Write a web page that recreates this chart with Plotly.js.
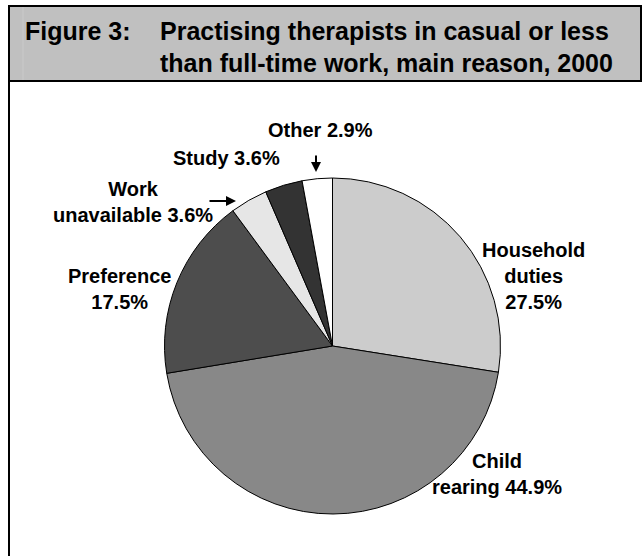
<!DOCTYPE html>
<html>
<head>
<meta charset="utf-8">
<script src="https://cdn.plot.ly/plotly-3.0.1.min.js"></script>
<style>html,body{margin:0;padding:0;background:#fff;}#chart{width:642px;height:556px;}</style>
</head>
<body>
<div id="chart"></div>
<script>
var categories = ["Household duties", "Child rearing", "Preference", "Work unavailable", "Study", "Other"];
var percents = [27.5, 44.9, 17.5, 3.6, 3.6, 2.9];
var labelTexts = ["Household<br>duties<br>27.5%", "Child<br>rearing 44.9%", "Preference<br>17.5%", "Work<br>unavailable 3.6%", "Study 3.6%", "Other 2.9%"];
var figureLabel = "Figure 3:";
var titleLines = ["Practising therapists in casual or less", "than full-time work, main reason, 2000"];

var W = 642, H = 556;
function px(x) { return x / W; }
function py(y) { return 1 - y / H; }

var sliceColors = ["#cccccc", "#888888", "#4d4d4d", "#e6e6e6", "#333333", "#ffffff"];
var labelPos = [[533, 276], [497, 474], [119, 289], [133, 202], [226, 158], [320, 130]];

var font = {family: "Liberation Sans, Arial, sans-serif", size: 20, color: "#000", weight: "bold"};

var annotations = [];
for (var i = 0; i < categories.length; i++) {
  annotations.push({
    xref: "paper", yref: "paper",
    x: px(labelPos[i][0]), y: py(labelPos[i][1]),
    xanchor: "center", yanchor: "middle",
    text: labelTexts[i], showarrow: false, align: "center", font: font
  });
}
// arrows
annotations.push({xref: "paper", yref: "paper", x: px(236), y: py(201), ax: -28, ay: 0,
  text: "", showarrow: true, arrowhead: 2, arrowsize: 1, arrowwidth: 2, arrowcolor: "#000"});
annotations.push({xref: "paper", yref: "paper", x: px(316), y: py(172), ax: 0, ay: -18,
  text: "", showarrow: true, arrowhead: 2, arrowsize: 1, arrowwidth: 2, arrowcolor: "#000"});
// header
var tfont = {family: "Liberation Sans, Arial, sans-serif", size: 25, color: "#000", weight: "bold"};
annotations.push({xref: "paper", yref: "paper", x: px(23), y: py(31), xanchor: "left", yanchor: "middle",
  text: figureLabel, showarrow: false, font: tfont});
annotations.push({xref: "paper", yref: "paper", x: px(158), y: py(31), xanchor: "left", yanchor: "middle",
  text: titleLines[0], showarrow: false, font: tfont});
annotations.push({xref: "paper", yref: "paper", x: px(158), y: py(63), xanchor: "left", yanchor: "middle",
  text: titleLines[1], showarrow: false, font: tfont});

var shapes = [
  {type: "rect", xref: "paper", yref: "paper", x0: px(9), x1: px(641), y0: py(6), y1: py(81),
   fillcolor: "#c0c0c0", line: {color: "#000", width: 2}, layer: "below"},
  {type: "line", xref: "paper", yref: "paper", x0: px(23), x1: px(23), y0: py(7), y1: py(80),
   line: {color: "#cacaca", width: 1}, layer: "below"},
  {type: "line", xref: "paper", yref: "paper", x0: px(9), x1: px(9), y0: py(81), y1: 0,
   line: {color: "#000", width: 2}}
];

var trace = {
  type: "pie",
  labels: categories,
  values: percents,
  sort: false,
  direction: "clockwise",
  rotation: 0,
  textinfo: "none",
  hoverinfo: "label+percent",
  marker: {colors: sliceColors, line: {color: "#000", width: 1}},
  domain: {x: [px(164.5), px(500.5)], y: [py(514), py(178)]},
  showlegend: false
};

var layout = {
  width: W, height: H,
  margin: {l: 0, r: 0, t: 0, b: 0},
  paper_bgcolor: "#fff",
  showlegend: false,
  annotations: annotations,
  shapes: shapes
};

Plotly.newPlot("chart", [trace], layout, {displayModeBar: false, staticPlot: true});
</script>
</body>
</html>
